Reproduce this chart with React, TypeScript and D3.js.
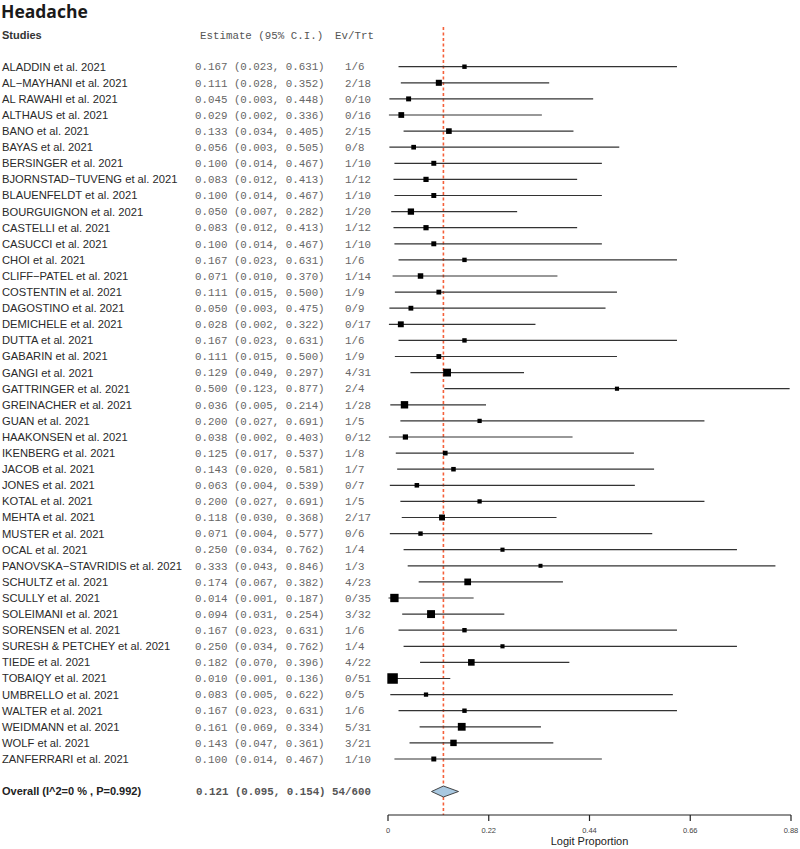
import React from "react";
import * as d3 from "d3";

const studies = [
  "ALADDIN et al. 2021", "AL\u2212MAYHANI et al.  2021", "AL RAWAHI et al.  2021", "ALTHAUS et al.  2021",
  "BANO et al. 2021", "BAYAS et al. 2021", "BERSINGER et al.  2021", "BJORNSTAD\u2212TUVENG et al. 2021",
  "BLAUENFELDT et al. 2021", "BOURGUIGNON et al.  2021", "CASTELLI et al. 2021", "CASUCCI et al.  2021",
  "CHOI et al.  2021", "CLIFF\u2212PATEL et al. 2021", "COSTENTIN et al. 2021", "DAGOSTINO et al. 2021",
  "DEMICHELE et al.  2021", "DUTTA et al. 2021", "GABARIN et al.  2021", "GANGI et al. 2021",
  "GATTRINGER et al. 2021", "GREINACHER et al. 2021", "GUAN et al.  2021", "HAAKONSEN et al. 2021",
  "IKENBERG et al. 2021", "JACOB et al.  2021", "JONES et al.  2021", "KOTAL et al.  2021",
  "MEHTA et al. 2021", "MUSTER et al. 2021", "OCAL et al. 2021", "PANOVSKA\u2212STAVRIDIS et al.  2021",
  "SCHULTZ et al. 2021", "SCULLY et al. 2021", "SOLEIMANI et al. 2021", "SORENSEN et al.  2021",
  "SURESH & PETCHEY et al. 2021", "TIEDE et al. 2021", "TOBAIQY et al. 2021", "UMBRELLO et al.  2021",
  "WALTER et al.  2021", "WEIDMANN et al.  2021", "WOLF et al. 2021", "ZANFERRARI et al. 2021",
];
const estimates = [0.167, 0.111, 0.045, 0.029, 0.133, 0.056, 0.100, 0.083, 0.100, 0.050, 0.083, 0.100, 0.167, 0.071, 0.111, 0.050, 0.028, 0.167, 0.111, 0.129, 0.500, 0.036, 0.200, 0.038, 0.125, 0.143, 0.063, 0.200, 0.118, 0.071, 0.250, 0.333, 0.174, 0.014, 0.094, 0.167, 0.250, 0.182, 0.010, 0.083, 0.167, 0.161, 0.143, 0.100];
const lowers = [0.023, 0.028, 0.003, 0.002, 0.034, 0.003, 0.014, 0.012, 0.014, 0.007, 0.012, 0.014, 0.023, 0.010, 0.015, 0.003, 0.002, 0.023, 0.015, 0.049, 0.123, 0.005, 0.027, 0.002, 0.017, 0.020, 0.004, 0.027, 0.030, 0.004, 0.034, 0.043, 0.067, 0.001, 0.031, 0.023, 0.034, 0.070, 0.001, 0.005, 0.023, 0.069, 0.047, 0.014];
const uppers = [0.631, 0.352, 0.448, 0.336, 0.405, 0.505, 0.467, 0.413, 0.467, 0.282, 0.413, 0.467, 0.631, 0.370, 0.500, 0.475, 0.322, 0.631, 0.500, 0.297, 0.877, 0.214, 0.691, 0.403, 0.537, 0.581, 0.539, 0.691, 0.368, 0.577, 0.762, 0.846, 0.382, 0.187, 0.254, 0.631, 0.762, 0.396, 0.136, 0.622, 0.631, 0.334, 0.361, 0.467];
const events = [1, 2, 0, 0, 2, 0, 1, 1, 1, 1, 1, 1, 1, 1, 1, 0, 0, 1, 1, 4, 2, 1, 1, 0, 1, 1, 0, 1, 2, 0, 1, 1, 4, 0, 3, 1, 1, 4, 0, 0, 1, 5, 3, 1];
const totals = [6, 18, 10, 16, 15, 8, 10, 12, 10, 20, 12, 10, 6, 14, 9, 9, 17, 6, 9, 31, 4, 28, 5, 12, 8, 7, 7, 5, 17, 6, 4, 3, 23, 35, 32, 6, 4, 22, 51, 5, 6, 31, 21, 10];

const overallLabel = "Overall (I^2=0 % , P=0.992)";
const overallEst = 0.121;
const overallLo = 0.095;
const overallHi = 0.154;
const overallEv = 54;
const overallN = 600;

const axisTicks = [0, 0.22, 0.44, 0.66, 0.88];
const axisTickLabels = ["0", "0.22", "0.44", "0.66", "0.88"];

const f3 = (v: number) => v.toFixed(3);

export default function App() {
  const W = 800, H = 849;
  const x = d3.scaleLinear().domain([0, 0.88]).range([388, 791]);
  const y = d3.scaleLinear().domain([0, studies.length - 1]).range([66.7, 759]);
  const size = d3.scaleLinear().domain([3, 51]).range([4, 10.5]);
  const yOverall = 791.5;
  const axisY = 815;
  const sans = "'Liberation Sans', Arial, sans-serif";
  const mono = "'Liberation Mono', 'Courier New', monospace";
  const diamond = `M${x(overallLo)},${yOverall} L${x(overallEst)},${yOverall - 5.5} L${x(overallHi)},${yOverall} L${x(overallEst)},${yOverall + 5.5} Z`;

  return (
    <svg width={W} height={H} style={{ position: "absolute", left: 0, top: 0, background: "#fff" }}>
      <text x={1} y={17.5} fontFamily="'Open Sans', sans-serif" fontWeight={700} fontSize={17.5} fill="#1a1a1a">Headache</text>
      <text x={2} y={39} fontFamily={sans} fontWeight={700} fontSize={11} fill="#333">Studies</text>
      <text x={200} y={39} fontFamily={mono} fontSize={10.8} fill="#555">Estimate (95% C.I.)</text>
      <text x={335} y={39} fontFamily={mono} fontSize={10.8} fill="#555">Ev/Trt</text>

      <line x1={x(overallEst)} x2={x(overallEst)} y1={27} y2={axisY} stroke="#f5603a" strokeWidth={1.6} strokeDasharray="3,2.5" />

      {studies.map((s, i) => {
        const yy = y(i);
        const sz = size(totals[i]);
        return (
          <g key={i}>
            <text x={2} y={yy} dy="0.35em" fontFamily={sans} fontSize={11.2} fill="#2a2a2a">{s}</text>
            <text x={195} y={yy} dy="0.35em" fontFamily={mono} fontSize={10.8} fill="#666">
              {`${f3(estimates[i])} (${f3(lowers[i])}, ${f3(uppers[i])})`}
            </text>
            <text x={345} y={yy} dy="0.35em" fontFamily={mono} fontSize={10.8} fill="#666">{`${events[i]}/${totals[i]}`}</text>
            <line x1={x(lowers[i])} x2={x(uppers[i])} y1={yy} y2={yy} stroke="#333" strokeWidth={1.2} />
            <rect x={x(estimates[i]) - sz / 2} y={yy - sz / 2} width={sz} height={sz} fill="#000" />
          </g>
        );
      })}

      <text x={2} y={yOverall} dy="0.35em" fontFamily={sans} fontWeight={700} fontSize={11} fill="#222">{overallLabel}</text>
      <text x={196} y={yOverall} dy="0.35em" fontFamily={mono} fontWeight={700} fontSize={10.8} fill="#555" xmlSpace="preserve">
        {`${f3(overallEst)} (${f3(overallLo)}, ${f3(overallHi)}) ${overallEv}/${overallN}`}
      </text>
      <path d={diamond} fill="#a9c8e0" stroke="#333" strokeWidth={0.9} />

      <line x1={x(0)} x2={x(0.88)} y1={axisY} y2={axisY} stroke="#222" strokeWidth={1.2} />
      {axisTicks.map((t, i) => (
        <g key={i}>
          <line x1={x(t)} x2={x(t)} y1={axisY} y2={axisY + 6} stroke="#222" strokeWidth={1.2} />
          <text x={x(t)} y={axisY + 18} textAnchor="middle" fontFamily={sans} fontSize={7.5} fill="#444">{axisTickLabels[i]}</text>
        </g>
      ))}
      <text x={(x(0) + x(0.88)) / 2} y={axisY + 30} textAnchor="middle" fontFamily={sans} fontSize={11} fill="#222">Logit Proportion</text>
    </svg>
  );
}
